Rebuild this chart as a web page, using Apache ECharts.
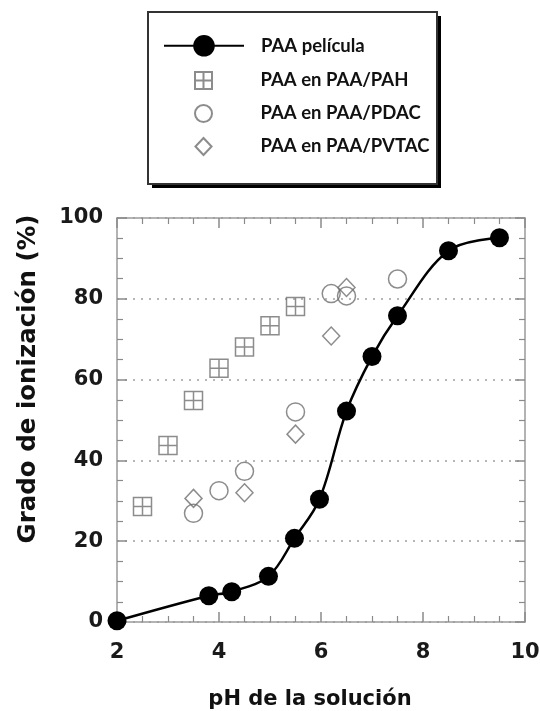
<!DOCTYPE html>
<html>
<head>
<meta charset="utf-8">
<script src="https://cdn.jsdelivr.net/npm/echarts@6/dist/echarts.min.js"></script>
<style>html,body{margin:0;padding:0;background:#fff}#c{width:540px;height:711px}</style>
</head>
<body>
<div id="c"></div>
<script>
// Data
const phPelicula  = [2, 3.8, 4.25, 4.97, 5.48, 5.97, 6.5, 7.0, 7.5, 8.5, 9.5];
const ionPelicula = [0.3, 6.5, 7.5, 11.3, 20.7, 30.4, 52.2, 65.7, 75.8, 91.9, 95.1];
const phPAH  = [2.5, 3, 3.5, 4, 4.5, 5, 5.5];
const ionPAH = [28.6, 43.7, 54.8, 62.8, 68.1, 73.3, 78.1];
const phPDAC  = [3.5, 4, 4.5, 5.5, 6.2, 6.5, 7.5];
const ionPDAC = [26.9, 32.5, 37.3, 52.0, 81.3, 80.7, 84.9];
const phPVTAC  = [3.5, 4.5, 5.5, 6.2, 6.5];
const ionPVTAC = [30.6, 32.0, 46.5, 70.8, 82.8];
const seriesNames = ['PAA película', 'PAA en PAA/PAH', 'PAA en PAA/PDAC', 'PAA en PAA/PVTAC'];
const xTicks = [2, 4, 6, 8, 10];
const yTicks = [0, 20, 40, 60, 80, 100];
const xTitle = 'pH de la solución';
const yTitle = 'Grado de ionización (%)';

const zip = (a, b) => a.map((v, i) => [v, b[i]]);
const squareCross = 'path://M0,0H20V20H0Z M10,0V20 M0,10H20';
const diamondPath = 'path://M9,0L18,9.5L9,19L0,9.5Z';
const hollowColor = '#6f6f6f';
const legendFont = 'Lato, "Open Sans", sans-serif';
const wideFont = '"DejaVu Sans", Verdana, sans-serif';

const chart = echarts.init(document.getElementById('c'));

const baseX = {
  type: 'value', min: xTicks[0], max: xTicks[xTicks.length - 1], interval: 2,
  axisLine: { show: true, onZero: false, lineStyle: { color: '#9a9a9a', width: 1.5 } },
  axisTick: { show: true, inside: true, length: 10, lineStyle: { color: '#8a8a8a', width: 1.5 } },
  minorTick: { show: true, splitNumber: 4, length: 6, lineStyle: { color: '#8a8a8a', width: 1.2 } },
  splitLine: { show: false }
};
const baseY = {
  type: 'value', min: yTicks[0], max: yTicks[yTicks.length - 1], interval: 20,
  axisLine: { show: true, onZero: false, lineStyle: { color: '#9a9a9a', width: 1.5 } },
  axisTick: { show: true, inside: true, length: 10, lineStyle: { color: '#8a8a8a', width: 1.5 } },
  minorTick: { show: true, splitNumber: 4, length: 6, lineStyle: { color: '#8a8a8a', width: 1.2 } },
  splitLine: { show: false }
};

chart.setOption({
  animation: false,
  backgroundColor: '#fff',
  grid: { left: 117, right: 15, top: 218, bottom: 89, outerBoundsMode: 'none' },
  graphic: [{
    type: 'rect', left: 152, top: 16, z: 1,
    shape: { width: 289, height: 172 },
    style: { fill: '#000' }
  }, {
    type: 'rect', left: 147, top: 11, z: 2,
    shape: { width: 289, height: 172 },
    style: { fill: '#fff', stroke: '#333', lineWidth: 2 }
  }],
  legend: [{
    data: [seriesNames[0]], orient: 'vertical', left: 163, top: 35, z: 5, padding: 0,
    itemWidth: 80, itemHeight: 27,
    textStyle: { fontFamily: legendFont, fontWeight: 'bold', fontSize: 18.5, color: '#111', padding: [0, 0, 0, 12] }
  }, {
    data: seriesNames.slice(1), orient: 'vertical', left: 194, top: 70, z: 5, padding: 0,
    itemWidth: 80, itemHeight: 17, itemGap: 12,
    textStyle: { fontFamily: legendFont, fontWeight: 'bold', fontSize: 18.5, lineHeight: 21, color: '#111', padding: [0, 0, 0, 12] }
  }],
  xAxis: [
    Object.assign({}, baseX, {
      position: 'bottom',
      name: xTitle, nameLocation: 'middle', nameGap: 67,
      nameTextStyle: { fontFamily: wideFont, fontWeight: 'bold', fontSize: 21, color: '#111', padding: [0, 22, 0, 0] },
      axisLabel: { show: true, margin: 20, fontFamily: wideFont, fontWeight: 'bold', fontSize: 21, color: '#1a1a1a' }
    }),
    Object.assign({}, baseX, { position: 'top', axisLabel: { show: false } })
  ],
  yAxis: [
    Object.assign({}, baseY, {
      position: 'left',
      name: yTitle, nameLocation: 'middle', nameGap: 76,
      nameTextStyle: { fontFamily: wideFont, fontWeight: 'bold', fontSize: 24.5, color: '#111', padding: [0, 0, 0, 82] },
      axisLabel: { show: true, margin: 14, fontFamily: wideFont, fontWeight: 'bold', fontSize: 21, color: '#1a1a1a' },
      splitLine: { show: true, lineStyle: { color: '#a0a0a0', width: 1.5, type: [2, 6] } }
    }),
    Object.assign({}, baseY, { position: 'right', axisLabel: { show: false } })
  ],
  series: [{
    name: seriesNames[0], type: 'line', data: zip(phPelicula, ionPelicula),
    smooth: 0.35, symbol: 'circle', symbolSize: 19, z: 4,
    lineStyle: { color: '#000', width: 2.5 },
    itemStyle: { color: '#000' }
  }, {
    name: seriesNames[1], type: 'scatter', data: zip(phPAH, ionPAH),
    symbol: squareCross, symbolSize: 18, z: 3,
    itemStyle: { color: 'rgba(255,255,255,0)', borderColor: hollowColor, borderWidth: 1.5 }
  }, {
    name: seriesNames[2], type: 'scatter', data: zip(phPDAC, ionPDAC),
    symbol: 'circle', symbolSize: 18, z: 3,
    itemStyle: { color: 'rgba(255,255,255,0)', borderColor: hollowColor, borderWidth: 1.5 }
  }, {
    name: seriesNames[3], type: 'scatter', data: zip(phPVTAC, ionPVTAC),
    symbol: diamondPath, symbolSize: [17, 18], z: 3,
    itemStyle: { color: 'rgba(255,255,255,0)', borderColor: hollowColor, borderWidth: 1.5 }
  }]
});
</script>
</body>
</html>
